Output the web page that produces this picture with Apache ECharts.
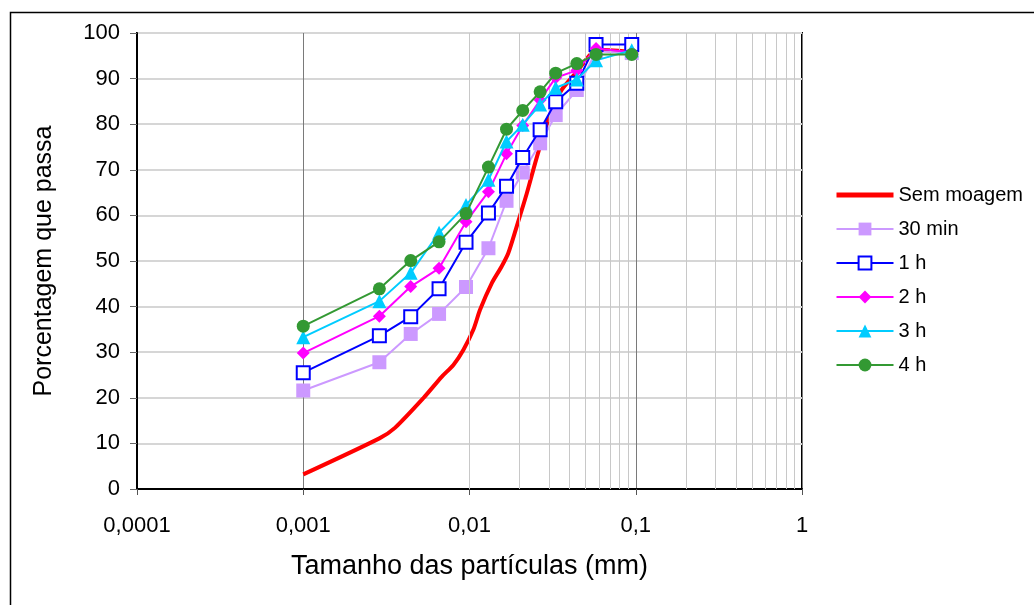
<!DOCTYPE html>
<html>
<head>
<meta charset="utf-8">
<script src="https://cdn.jsdelivr.net/npm/echarts@6/dist/echarts.min.js"></script>
<style>
html,body{margin:0;padding:0;background:#fff;}
#chart{width:1034px;height:605px;}
</style>
</head>
<body>
<div id="chart"></div>
<script>
// Particle sizes (mm) for the ground samples
const sizes = [0.001, 0.00287, 0.00443, 0.00656, 0.00953, 0.013, 0.0167, 0.0209, 0.0266, 0.033, 0.0442, 0.0577, 0.0946];
const min30 = [21.6, 27.8, 34.0, 38.4, 44.3, 52.8, 63.2, 69.4, 75.8, 82.0, 87.5, 96.0, 95.6];
const h1 = [25.5, 33.6, 37.8, 43.9, 54.1, 60.5, 66.4, 72.7, 78.8, 84.9, 89.0, 97.5, 97.5];
const h2 = [29.8, 37.9, 44.4, 48.4, 58.6, 65.2, 73.5, 79.7, 85.3, 90.2, 91.8, 96.6, 95.8];
const h3 = [33.3, 41.2, 47.4, 56.2, 62.3, 67.8, 76.2, 79.9, 84.3, 88.0, 89.8, 94.0, 96.2];
const h4 = [35.7, 43.9, 50.1, 54.2, 60.4, 70.6, 78.9, 83.0, 87.1, 91.2, 93.3, 95.3, 95.3];
// Unground sample (Sem moagem)
const semSizes = [0.001, 0.00287, 0.00356, 0.00527, 0.0068, 0.0080, 0.00918, 0.01054, 0.01157, 0.0136, 0.0156, 0.0171, 0.0192, 0.0221, 0.0248, 0.0278, 0.0305, 0.0358, 0.0442, 0.0531, 0.0582, 0.0923];
const semVals = [3.2, 11.1, 13.4, 19.9, 24.6, 27.2, 30.5, 34.9, 39.3, 45.1, 48.8, 51.7, 57.5, 64.8, 71.4, 77.6, 82.0, 87.5, 91.5, 95.2, 96.3, 95.9];
// Axis ticks
const xTicks = [0.0001, 0.001, 0.01, 0.1, 1];
const minorX = [];
for (let d = 0; d < 4; d++) { for (let k = 2; k <= 9; k++) { minorX.push(+(k * Math.pow(10, d - 4)).toPrecision(3)); } }

const pair = (xs, ys) => xs.map((x, i) => [x, ys[i]]);
const FONT = 'Liberation Sans, Arial, sans-serif';

const chart = echarts.init(document.getElementById('chart'));
chart.setOption({
  animation: false,
  backgroundColor: '#fff',
  textStyle: { fontFamily: FONT },
  graphic: [{
    type: 'rect', shape: { x: 10.5, y: 12.5, width: 1100, height: 700 },
    style: { fill: 'none', stroke: '#000', lineWidth: 1.5 }, z: -10, silent: true
  }],
  grid: { left: 137, top: 33, right: 232, bottom: 116, show: true, borderColor: '#000', borderWidth: 2, backgroundColor: 'transparent' },
  legend: {
    left: 829, top: 180, orient: 'vertical', itemWidth: 57, itemHeight: 16, itemGap: 14,
    textStyle: { fontSize: 20, color: '#000', fontFamily: FONT },
    data: [{ name: 'Sem moagem', itemStyle: { opacity: 0 }, lineStyle: { width: 5 } }, '30 min', '1 h', '2 h', '3 h', '4 h']
  },
  xAxis: {
    type: 'log', logBase: 10, min: 0.0001, max: 1,
    name: 'Tamanho das partículas (mm)', nameLocation: 'middle', nameGap: 64,
    nameTextStyle: { fontSize: 27, color: '#000', fontFamily: FONT },
    axisLine: { show: true, lineStyle: { color: '#000', width: 2 } },
    axisTick: { show: true, length: 6, lineStyle: { color: '#555' } },
    axisLabel: { fontSize: 22, color: '#000', margin: 26, fontFamily: FONT,
      formatter: v => String(+v.toPrecision(3)).replace('.', ',') },
    splitLine: { show: true, lineStyle: { color: '#7a7a7a', width: 1 } }
  },
  yAxis: {
    type: 'value', min: 0, max: 100, interval: 10,
    name: 'Porcentagem que passa', nameLocation: 'middle', nameGap: 80,
    nameTextStyle: { fontSize: 25, color: '#000', fontFamily: FONT },
    axisLine: { show: true, lineStyle: { color: '#000', width: 2 } },
    axisTick: { show: true, length: 7, inside: false, lineStyle: { color: '#666' } },
    axisLabel: { fontSize: 22, color: '#000', margin: 17, fontFamily: FONT },
    splitLine: { show: true, lineStyle: { color: '#d6d6d6', width: 2 } }
  },
  series: [
    {
      name: '_grid', type: 'line', data: [], silent: true, z: 1,
      markLine: { silent: true, symbol: 'none', label: { show: false }, animation: false,
        lineStyle: { color: '#c8c8c8', width: 1, type: 'solid' },
        data: minorX.map(v => ({ xAxis: v })) }
    },
    {
      name: 'Sem moagem', type: 'line', data: pair(semSizes, semVals), smooth: 0.25,
      showSymbol: false, symbol: 'none', color: '#ff0000', lineStyle: { color: '#ff0000', width: 4 }, z: 3
    },
    {
      name: '30 min', type: 'line', data: pair(sizes, min30), symbol: 'rect', symbolSize: 14,
      color: '#cc99ff', itemStyle: { color: '#cc99ff' }, lineStyle: { color: '#cc99ff', width: 2 }, z: 4
    },
    {
      name: '1 h', type: 'line', data: pair(sizes, h1), symbol: 'rect', symbolSize: 13,
      color: '#0000ff', itemStyle: { color: '#fff', borderColor: '#0000ff', borderWidth: 2 },
      lineStyle: { color: '#0000ff', width: 2 }, z: 5
    },
    {
      name: '2 h', type: 'line', data: pair(sizes, h2), symbol: 'diamond', symbolSize: 13,
      color: '#ff00ff', itemStyle: { color: '#ff00ff' }, lineStyle: { color: '#ff00ff', width: 2 }, z: 6
    },
    {
      name: '3 h', type: 'line', data: pair(sizes, h3), symbol: 'triangle', symbolSize: 14,
      color: '#00ccff', itemStyle: { color: '#00ccff' }, lineStyle: { color: '#00ccff', width: 2 }, z: 7
    },
    {
      name: '4 h', type: 'line', data: pair(sizes, h4), symbol: 'circle', symbolSize: 13,
      color: '#339933', itemStyle: { color: '#339933' }, lineStyle: { color: '#339933', width: 2 }, z: 8
    }
  ]
});
</script>
</body>
</html>
